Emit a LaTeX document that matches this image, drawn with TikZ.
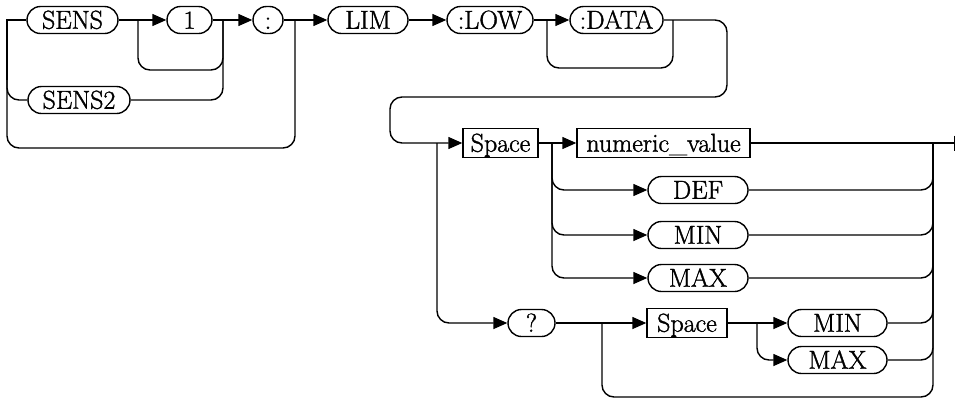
\documentclass[tikz,border=0pt]{standalone}
\usepackage{fontspec}
\newfontfamily\diafont{Latin Modern Roman}[FakeBold=1.4]
\usetikzlibrary{shapes.misc,arrows.meta}
\begin{document}
\begin{tikzpicture}[x=1pt,y=-1pt, line width=1.4pt,
  every node/.style={font=\diafont\fontsize{26}{30}\selectfont, inner sep=0pt, text height=17.5pt, text depth=0pt},
  oval/.style={draw, rounded rectangle, minimum height=27pt},
  kbox/.style={draw, rectangle, minimum height=29pt},
  arr/.style={-{Triangle[length=14pt,width=12pt]}},
  rc/.style={rounded corners=12pt}]
\useasboundingbox (0,0) rectangle (956,400);
% nodes
\node[oval, minimum width=91pt] (sens) at (72.5,20) {SENS};
\node[oval, minimum width=45pt] (one) at (189.5,20) {1};
\node[oval, minimum width=30pt] (colon) at (268,20) {:};
\node[oval, minimum width=80pt] (lim) at (368,20) {LIM};
\node[oval, minimum width=86pt] (low) at (490,20) {:LOW};
\node[oval, minimum width=93pt] (data) at (616.5,20) {:DATA};
\node[oval, minimum width=102pt] (sens2) at (79,100) {SENS2};
\node[kbox, minimum width=75pt] (sp1) at (500.5,143) {Space};
\node[kbox, minimum width=173pt] (num) at (663.5,143) {numeric\_value};
\node[oval, minimum width=100pt] (def) at (698,190) {DEF};
\node[oval, minimum width=100pt] (min1) at (698,235) {MIN};
\node[oval, minimum width=100pt] (max1) at (698,278) {MAX};
\node[oval, minimum width=47pt] (q) at (531.5,323) {?};
\node[kbox, minimum width=80pt] (sp2) at (687,323) {Space};
\node[oval, minimum width=99pt] (min2) at (837.5,323) {MIN};
\node[oval, minimum width=99pt] (max2) at (837.5,360) {MAX};
% junction coordinates
\coordinate (L) at (7,20);
\coordinate (j1) at (138,20);
\coordinate (j2) at (223,20);
\coordinate (j3) at (295,20);
\coordinate (j4) at (547,20);
\coordinate (j5) at (673,20);
\coordinate (j6) at (552,143);
\coordinate (j7) at (437,143);
\coordinate (j8) at (602,323);
\coordinate (j9) at (757,323);
\coordinate (rv) at (933,143);
\coordinate (endp) at (955,143);
% connectors
\draw (sens.west) -- (L) -- (7,80);
\draw[rc] (7,79) |- (sens2.west);
\draw[rc] (7,79) -- (7,148) -- (295,148) -- (j3);
\draw[arr] (sens.east) -- (one.west);
\draw[rc] (j1) -- (138,70) -- (223,70) -- (j2);
\draw[rc] (sens2.east) -| (j2);
\draw[arr] (one.east) -- (colon.west);
\draw[arr] (colon.east) -- (lim.west);
\draw[arr] (lim.east) -- (low.west);
\draw[arr] (low.east) -- (data.west);
\draw[rc] (j4) -- (547,68) -- (673,68) -- (j5);
\draw[rc, arr] (data.east) -- (727,20) -- (727,97) -- (390,97) -- (390,143) -- (sp1.west);
\draw[rc, arr] (j7) |- (q.west);
\draw[arr] (sp1.east) -- (num.west);
\draw[-{Bar[width=15pt]}] (num.east) -- (endp);
\draw[rc, arr] (j6) |- (def.west);
\draw[rc, arr] (j6) |- (min1.west);
\draw[rc, arr] (j6) |- (max1.west);
\draw[rc] (def.east) -| (rv);
\draw[rc] (min1.east) -| (rv);
\draw[rc] (max1.east) -| (rv);
\draw[arr] (q.east) -- (sp2.west);
\draw[rc] (j8) -- (602,397) -- (933,397) -- (rv);
\draw[arr] (sp2.east) -- (min2.west);
\draw[rc, arr] (j9) |- (max2.west);
\draw[rc] (min2.east) -| (rv);
\draw[rc] (max2.east) -| (rv);
\end{tikzpicture}
\end{document}
